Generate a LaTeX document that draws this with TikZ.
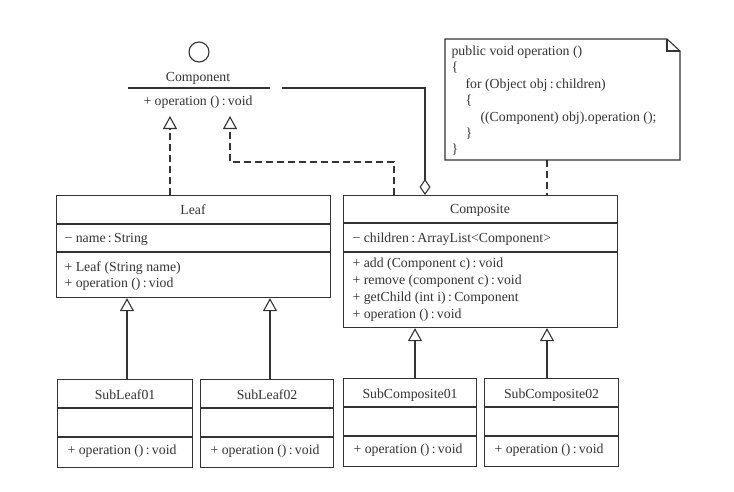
\documentclass[tikz,border=0pt]{standalone}
\usepackage{fontspec}
\setmainfont{Liberation Serif}
\usetikzlibrary{arrows.meta}
\definecolor{ink}{HTML}{333333}
\newcommand{\cln}{\,:\,}
\begin{document}
\begin{tikzpicture}[x=1pt,y=-1pt,
  line width=1.1pt, draw=ink, text=ink,
  font=\fontsize{13.8}{17}\selectfont,
  classbox/.style={draw, rectangle, inner sep=0pt, anchor=north west},
  lbl/.style={inner sep=0pt, anchor=base west},
  ttl/.style={inner sep=0pt, anchor=base},
  gen/.style={-{Triangle[open,length=13pt,width=14pt,line width=1.1pt]}},
  realize/.style={gen, dash pattern=on 7pt off 4pt},
  aggr/.style={-{Diamond[open,length=16pt,width=11pt,line width=1.1pt]}},
  anchorline/.style={dash pattern=on 7pt off 4pt}]
\useasboundingbox[fill=white] (0,0) rectangle (734,491);

% interface Component (lollipop notation)
\node[draw, circle, minimum size=20pt, inner sep=0pt] (lolli) at (199,52) {};
\node[ttl] (compname) at (198,81) {Component};
\node[ttl] (compop) at (198,105) {+ operation ()\cln void};
\coordinate (cl) at (128,88);
\coordinate (cr) at (270,88);
\draw (cl) -- (cr);
\coordinate (ca) at (170,116);
\coordinate (cb) at (230,116);

% class Leaf
\node[classbox, minimum width=274pt, minimum height=102pt] (leaf) at (56,195) {};
\draw (56,224) -- (330,224);
\draw (56,252) -- (330,252);
\node[ttl] (leafname) at (193,214) {Leaf};
\node[lbl] at (64,242) {− name\cln String};
\node[lbl] at (64,271) {+ Leaf (String name)};
\node[lbl] at (64,287) {+ operation ()\cln viod};

% class Composite
\node[classbox, minimum width=274pt, minimum height=132pt] (comp) at (343,195) {};
\draw (343,223) -- (617,223);
\draw (343,252) -- (617,252);
\node[ttl] (compname2) at (480,213) {Composite};
\node[lbl] at (352,242) {− children\cln ArrayList<Component>};
\node[lbl] at (352,267) {+ add (Component c)\cln void};
\node[lbl] at (352,284) {+ remove (component c)\cln void};
\node[lbl] at (352,301) {+ getChild (int i)\cln Component};
\node[lbl] at (352,318) {+ operation ()\cln void};

% note attached to Composite
\coordinate (n1) at (445,39);
\coordinate (n2) at (667,39);
\coordinate (n3) at (680,51);
\coordinate (n4) at (680,160);
\coordinate (n5) at (445,160);
\draw (n1) -- (n2) -- (n3) -- (n4) -- (n5) -- cycle;
\draw (n2) -- (667,51) -- (n3);
\node[lbl] at (451,55) {public void operation ()};
\node[lbl] at (451,71) {\{};
\node[lbl] at (465,88) {for (Object obj\cln children)};
\node[lbl] at (465,104) {\{};
\node[lbl] at (480,121) {((Component) obj).operation ();};
\node[lbl] at (465,137) {\}};
\node[lbl] at (451,153) {\}};
\coordinate (noteanchor) at (547,160);

% subclasses
\foreach \nm/\x/\w/\t/\bt in {subleafA/57/135/SubLeaf01/379, subleafB/200/133/SubLeaf02/379,
                             subcompA/343/133/SubComposite01/378, subcompB/484/134/SubComposite02/378}{
  \node[classbox, minimum width=\w pt, minimum height=88pt] (\nm) at (\x,\bt) {};
  \draw ([yshift=-29pt]\nm.north west) -- ([yshift=-29pt]\nm.north east);
  \draw ([yshift=-58pt]\nm.north west) -- ([yshift=-58pt]\nm.north east);
  \node[ttl] at ([yshift=-20pt]\nm.north) {\t};
  \node[lbl] at ([xshift=10pt,yshift=-75pt]\nm.north west) {+ operation ()\cln void};
}

% realizations of Component
\draw[realize] (leaf.north -| ca) -- (ca);
\draw[realize] (comp.north -| 394,0) -- (394,162) -- (230,162) -- (cb);

% aggregation Composite -> Component
\coordinate (ag) at (282,88);
\draw[aggr] (ag) -- (425,88) -- (comp.north -| 425,0);

% note link
\draw[anchorline] (noteanchor) -- (comp.north -| noteanchor);

% generalizations
\draw[gen] (subleafA.north -| 127,0) -- (leaf.south -| 127,0);
\draw[gen] (subleafB.north -| 270,0) -- (leaf.south -| 270,0);
\draw[gen] (subcompA.north -| 415,0) -- (comp.south -| 415,0);
\draw[gen] (subcompB.north -| 547,0) -- (comp.south -| 547,0);
\end{tikzpicture}
\end{document}
